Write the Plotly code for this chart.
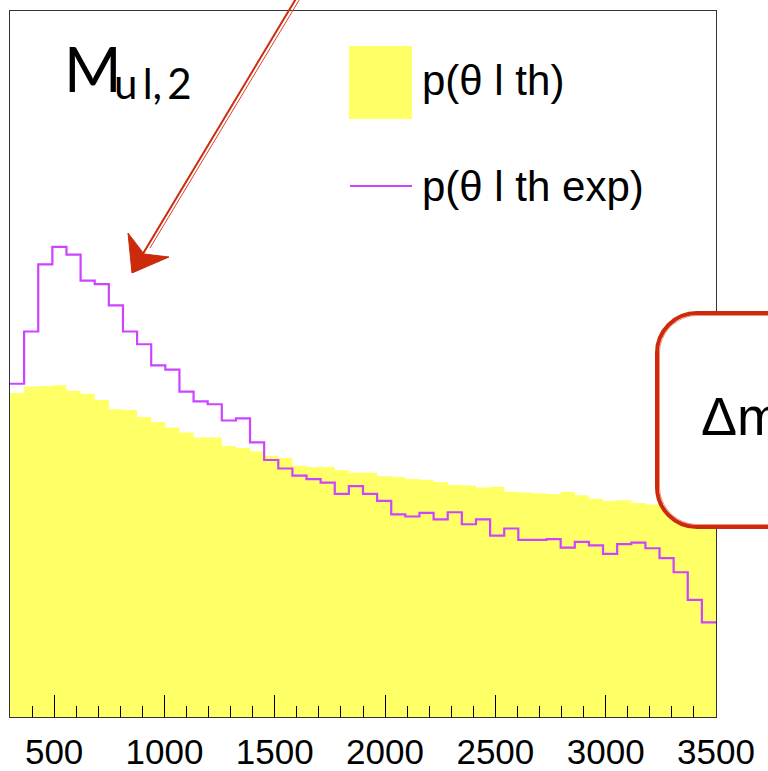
import plotly.graph_objects as go

# Binning: 50 bins of width 64 from 300 to 3500
x_min, x_max, bin_width = 300, 3500, 64
n_bins = 50
bin_edges = [x_min + i * bin_width for i in range(n_bins + 1)]

# p(theta | th) -- filled histogram
p_th = [45.9, 46.8, 46.9, 47.0, 46.2, 45.8, 44.9, 43.6, 43.5, 42.5,
        41.8, 41.0, 40.3, 39.6, 39.6, 38.4, 38.1, 37.6, 37.0, 36.7,
        35.6, 35.4, 35.4, 35.0, 34.6, 34.6, 34.1, 34.0, 33.7, 33.6,
        33.3, 32.9, 32.8, 32.5, 32.6, 31.9, 31.8, 31.7, 31.6, 31.9,
        31.4, 30.9, 30.6, 30.7, 30.3, 30.1, 29.9, 29.8, 29.6, 29.5]

# p(theta | th exp) -- step line
p_th_exp = [47.2, 54.6, 64.1, 66.6, 65.5, 61.8, 61.3, 58.3, 54.6, 52.8,
            49.8, 49.2, 46.1, 44.7, 44.3, 42.0, 42.3, 38.9, 36.4, 35.2,
            34.2, 33.7, 33.2, 31.6, 32.7, 31.6, 30.6, 28.7, 28.4, 28.9,
            28.0, 29.0, 27.3, 28.0, 25.7, 26.7, 25.1, 25.1, 25.2, 24.0,
            24.8, 24.3, 23.1, 24.5, 24.7, 23.9, 22.5, 20.5, 16.6, 13.4]

y_max = 100

legend_labels = ["p(θ l th)", "p(θ l th exp)"]
title_main, title_sub = "M", "u\u2009l,\u20092"
box_text = "Δm"

YELLOW = "#ffff66"
MAGENTA = "#cc44ff"
RED = "#cc2a0a"

W, H = 768, 771
L, R, T, B = 10, 716, 11, 717  # plot frame in pixels


def px(x):
    return (x - L) / (R - L)


def py(y):
    return (B - y) / (B - T)


fig = go.Figure()

fig.add_trace(go.Scatter(
    x=bin_edges, y=p_th + [p_th[-1]],
    mode="lines", line=dict(shape="hv", width=0, color=YELLOW),
    fill="tozeroy", fillcolor=YELLOW, hoverinfo="skip", showlegend=False,
))
fig.add_trace(go.Scatter(
    x=bin_edges, y=p_th_exp + [p_th_exp[-1]],
    mode="lines", line=dict(shape="hv", width=2.2, color=MAGENTA),
    hoverinfo="skip", showlegend=False,
))

shapes = []

# Legend swatches
shapes.append(dict(type="rect", xref="paper", yref="paper",
                   x0=px(349), x1=px(412), y0=py(119), y1=py(46),
                   fillcolor=YELLOW, line=dict(width=0), layer="above"))
shapes.append(dict(type="line", xref="paper", yref="paper",
                   x0=px(350), x1=px(412), y0=py(186), y1=py(186),
                   line=dict(color=MAGENTA, width=2), layer="above"))


def rounded_rect_path(x0, y0, x1, y1, r):
    k = 0.5523 * r
    pts = [
        ("M", [(x0 + r, y0)]),
        ("L", [(x1, y0)]),
        ("L", [(x1, y1)]),
        ("L", [(x0 + r, y1)]),
        ("C", [(x0 + r - k, y1), (x0, y1 - r + k), (x0, y1 - r)]),
        ("L", [(x0, y0 + r)]),
        ("C", [(x0, y0 + r - k), (x0 + r - k, y0), (x0 + r, y0)]),
    ]
    out = []
    for cmd, ps in pts:
        out.append(cmd + " " + " ".join(f"{px(a):.5f},{py(b):.5f}" for a, b in ps))
    return " ".join(out) + " Z"


# Callout box on the right (sketched double outline)
shapes.append(dict(type="path", xref="paper", yref="paper",
                   path=rounded_rect_path(657, 313, 820, 527, 40),
                   fillcolor="white", line=dict(color=RED, width=4), layer="above"))
shapes.append(dict(type="path", xref="paper", yref="paper",
                   path=rounded_rect_path(659.5, 315.5, 820, 524.5, 38),
                   fillcolor="rgba(0,0,0,0)", line=dict(color="#e8785f", width=0.8),
                   layer="above"))

# Hand-drawn arrow pointing at the peak
shapes.append(dict(type="line", xref="paper", yref="paper",
                   x0=px(297), y0=py(-3), x1=px(141), y1=py(257),
                   line=dict(color=RED, width=2), layer="above"))
shapes.append(dict(type="line", xref="paper", yref="paper",
                   x0=px(301), y0=py(-3), x1=px(150), y1=py(248),
                   line=dict(color="#d8442a", width=1), layer="above"))
head = [(128, 233), (132, 273), (169, 257), (144, 254)]
head_path = "M " + " L ".join(f"{px(a):.5f},{py(b):.5f}" for a, b in head) + " Z"
shapes.append(dict(type="path", xref="paper", yref="paper", path=head_path,
                   fillcolor=RED, line=dict(color=RED, width=1), layer="above"))

annotations = [
    dict(text=title_main, x=px(62), y=py(68), xref="paper", yref="paper",
         xanchor="left", yanchor="middle", showarrow=False,
         font=dict(family="Lato", size=62, color="black")),
    dict(text=title_sub, x=px(112), y=py(83), xref="paper", yref="paper",
         xanchor="left", yanchor="middle", showarrow=False,
         font=dict(family="Lato", size=42, color="black")),
    dict(text=legend_labels[0], x=px(420), y=py(80), xref="paper", yref="paper",
         xanchor="left", yanchor="middle", showarrow=False,
         font=dict(family="Liberation Sans", size=42, color="black")),
    dict(text=legend_labels[1], x=px(420), y=py(187), xref="paper", yref="paper",
         xanchor="left", yanchor="middle", showarrow=False,
         font=dict(family="Liberation Sans", size=42, color="black")),
    dict(text=box_text, x=px(699), y=py(416), xref="paper", yref="paper",
         xanchor="left", yanchor="middle", showarrow=False,
         font=dict(family="Liberation Sans", size=54, color="black")),
]

fig.update_layout(
    width=W, height=H,
    margin=dict(l=L, r=W - R, t=T, b=H - B, pad=0, autoexpand=False),
    paper_bgcolor="white", plot_bgcolor="white",
    showlegend=False,
    shapes=shapes, annotations=annotations,
    xaxis=dict(
        range=[x_min, x_max], showgrid=False, zeroline=False, automargin=False,
        showline=True, linecolor="#333333", linewidth=1, mirror=True,
        ticks="inside", ticklen=22, tickwidth=1, tickcolor="black",
        tick0=500, dtick=500, ticklabelstandoff=4,
        minor=dict(ticks="inside", ticklen=11, tickwidth=1, tickcolor="black",
                   tick0=0, dtick=100),
        tickfont=dict(family="Liberation Sans", size=35, color="black"),
    ),
    yaxis=dict(
        range=[0, y_max], showgrid=False, zeroline=False, automargin=False,
        showline=True, linecolor="#333333", linewidth=1, mirror=True,
        showticklabels=False, ticks="",
    ),
)

fig.write_html("out.html")
